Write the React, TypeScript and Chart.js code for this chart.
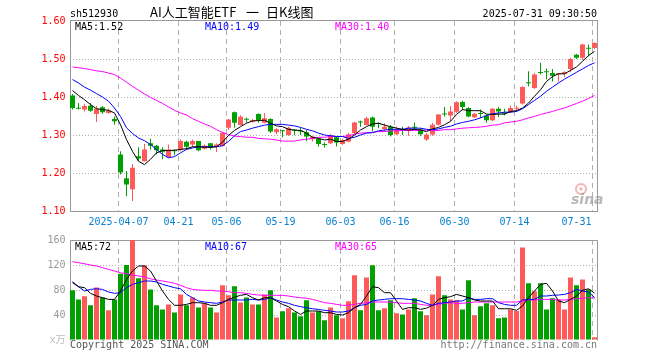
import React, { useEffect, useRef } from "react";
import { Chart, registerables } from "chart.js";

Chart.register(...registerables);

// ---------- data ----------
const dates = [
  "2025-03-25","2025-03-26","2025-03-27","2025-03-28","2025-03-31","2025-04-01","2025-04-02","2025-04-03","2025-04-07","2025-04-08",
  "2025-04-09","2025-04-10","2025-04-11","2025-04-14","2025-04-15","2025-04-16","2025-04-17","2025-04-18","2025-04-21","2025-04-22",
  "2025-04-23","2025-04-24","2025-04-25","2025-04-28","2025-04-29","2025-04-30","2025-05-06","2025-05-07","2025-05-08","2025-05-09",
  "2025-05-12","2025-05-13","2025-05-14","2025-05-15","2025-05-16","2025-05-19","2025-05-20","2025-05-21","2025-05-22","2025-05-23",
  "2025-05-26","2025-05-27","2025-05-28","2025-05-29","2025-05-30","2025-06-03","2025-06-04","2025-06-05","2025-06-06","2025-06-09",
  "2025-06-10","2025-06-11","2025-06-12","2025-06-13","2025-06-16","2025-06-17","2025-06-18","2025-06-19","2025-06-20","2025-06-23",
  "2025-06-24","2025-06-25","2025-06-26","2025-06-27","2025-06-30","2025-07-01","2025-07-02","2025-07-03","2025-07-04","2025-07-07",
  "2025-07-08","2025-07-09","2025-07-10","2025-07-11","2025-07-14","2025-07-15","2025-07-16","2025-07-17","2025-07-18","2025-07-21",
  "2025-07-22","2025-07-23","2025-07-24","2025-07-25","2025-07-28","2025-07-29","2025-07-30","2025-07-31",
];

const open = [
  1.404,1.370,1.367,1.377,1.355,1.373,1.358,1.342,1.249,1.186,
  1.157,1.244,1.231,1.278,1.272,1.262,1.242,1.258,1.262,1.282,
  1.275,1.284,1.264,1.278,1.269,1.271,1.319,1.360,1.326,1.343,
  1.335,1.355,1.332,1.342,1.307,1.312,1.300,1.313,1.310,1.307,
  1.289,1.290,1.275,1.278,1.294,1.276,1.283,1.305,1.334,1.326,
  1.346,1.330,1.316,1.322,1.302,1.312,1.313,1.320,1.315,1.288,
  1.301,1.327,1.355,1.351,1.361,1.387,1.371,1.347,1.356,1.351,
  1.339,1.369,1.357,1.360,1.369,1.383,1.437,1.424,1.464,1.466,
  1.463,1.460,1.461,1.474,1.511,1.503,1.528,1.529,
];
const high = [
  1.408,1.384,1.382,1.384,1.376,1.376,1.369,1.349,1.257,1.205,
  1.224,1.268,1.277,1.290,1.274,1.268,1.275,1.262,1.288,1.285,
  1.288,1.284,1.275,1.279,1.278,1.307,1.342,1.362,1.352,1.346,
  1.342,1.357,1.357,1.344,1.318,1.313,1.322,1.315,1.319,1.313,
  1.298,1.291,1.280,1.302,1.296,1.291,1.305,1.335,1.338,1.348,
  1.348,1.333,1.331,1.326,1.322,1.322,1.324,1.333,1.318,1.305,
  1.332,1.355,1.374,1.376,1.389,1.390,1.373,1.358,1.367,1.354,
  1.371,1.374,1.369,1.377,1.377,1.428,1.468,1.463,1.490,1.475,
  1.474,1.463,1.468,1.503,1.513,1.540,1.538,1.544,
];
const low = [
  1.367,1.367,1.362,1.361,1.334,1.356,1.356,1.327,1.196,1.139,
  1.126,1.231,1.231,1.262,1.249,1.236,1.240,1.247,1.257,1.262,
  1.269,1.257,1.262,1.262,1.255,1.269,1.314,1.319,1.325,1.333,
  1.333,1.332,1.331,1.305,1.302,1.294,1.298,1.300,1.300,1.284,
  1.283,1.270,1.267,1.276,1.270,1.274,1.281,1.302,1.322,1.325,
  1.309,1.318,1.309,1.296,1.300,1.300,1.298,1.313,1.298,1.284,
  1.298,1.325,1.349,1.336,1.358,1.365,1.347,1.345,1.345,1.332,
  1.336,1.347,1.351,1.358,1.362,1.380,1.428,1.421,1.459,1.447,
  1.441,1.441,1.452,1.465,1.500,1.498,1.507,1.526,
];
const close = [
  1.371,1.369,1.376,1.364,1.369,1.360,1.364,1.336,1.201,1.170,
  1.214,1.238,1.262,1.272,1.260,1.256,1.262,1.257,1.284,1.269,
  1.284,1.260,1.272,1.266,1.275,1.306,1.341,1.332,1.348,1.340,
  1.339,1.339,1.344,1.309,1.315,1.310,1.319,1.311,1.309,1.296,
  1.296,1.276,1.274,1.300,1.280,1.287,1.302,1.333,1.333,1.344,
  1.322,1.329,1.322,1.300,1.313,1.311,1.320,1.319,1.302,1.301,
  1.327,1.354,1.354,1.362,1.386,1.374,1.349,1.356,1.355,1.339,
  1.369,1.362,1.356,1.371,1.370,1.426,1.436,1.459,1.463,1.465,
  1.456,1.461,1.466,1.500,1.503,1.538,1.527,1.542,
];

const ma5 = [
  1.417,1.404,1.393,1.380,1.369,1.367,1.365,1.358,1.327,1.288,
  1.257,1.231,1.222,1.236,1.253,1.259,1.259,1.260,1.262,1.264,
  1.269,1.269,1.268,1.268,1.269,1.281,1.299,1.312,1.322,1.331,
  1.337,1.338,1.339,1.331,1.324,1.322,1.315,1.313,1.312,1.305,
  1.294,1.291,1.287,1.289,1.283,1.283,1.289,1.300,1.313,1.322,
  1.329,1.331,1.326,1.322,1.318,1.315,1.313,1.315,1.313,1.309,
  1.316,1.320,1.327,1.336,1.354,1.367,1.364,1.364,1.364,1.355,
  1.354,1.355,1.355,1.362,1.364,1.371,1.384,1.402,1.419,1.441,
  1.454,1.461,1.461,1.470,1.479,1.494,1.509,1.520,
];
const ma10 = [
  1.446,1.437,1.426,1.418,1.409,1.400,1.389,1.371,1.349,1.319,
  1.304,1.292,1.285,1.275,1.262,1.249,1.240,1.243,1.253,1.262,
  1.266,1.269,1.269,1.269,1.269,1.272,1.283,1.298,1.309,1.313,
  1.318,1.322,1.326,1.328,1.328,1.328,1.326,1.324,1.320,1.315,
  1.311,1.305,1.300,1.298,1.296,1.296,1.291,1.294,1.300,1.305,
  1.306,1.311,1.313,1.315,1.315,1.315,1.318,1.318,1.318,1.315,
  1.314,1.316,1.320,1.323,1.329,1.333,1.336,1.340,1.345,1.351,
  1.356,1.358,1.360,1.360,1.362,1.369,1.380,1.391,1.402,1.415,
  1.426,1.437,1.447,1.456,1.465,1.474,1.483,1.490,
];
const ma30 = [
  1.479,1.477,1.475,1.472,1.469,1.467,1.463,1.459,1.450,1.439,
  1.428,1.418,1.408,1.399,1.391,1.383,1.374,1.365,1.358,1.353,
  1.343,1.336,1.329,1.323,1.314,1.307,1.301,1.297,1.296,1.294,
  1.294,1.291,1.290,1.289,1.287,1.284,1.284,1.284,1.287,1.289,
  1.291,1.294,1.294,1.296,1.296,1.296,1.298,1.302,1.305,1.306,
  1.307,1.309,1.309,1.311,1.311,1.312,1.312,1.312,1.312,1.313,
  1.312,1.312,1.314,1.314,1.316,1.318,1.319,1.320,1.321,1.323,
  1.326,1.327,1.332,1.334,1.336,1.340,1.345,1.349,1.354,1.358,
  1.362,1.367,1.371,1.377,1.383,1.389,1.396,1.404,
];

// volume, 万手
const volume = [
  79.5,65,70,55.5,84,68,47.5,65,106,120,
  160,98.7,119.5,81,55.5,49,57,44,73,55.5,
  68,52,58.7,52,44,87.5,71.5,86,60,68,
  57,57,73,79.5,36,46,50.7,44,38,63.5,
  44,46,31.5,52,39.5,34.7,62,103.5,47.5,100,
  119.5,47.5,50.7,63.5,42.7,41,49,66.7,46,39.5,
  73,102,71.5,65,63.5,49,95.5,39.5,54,58.7,
  55.5,34.7,36,49,46.4,148,90.7,78,90.7,49,
  66.7,65,49,100,87.5,97,81,4.3,
];
const volMa5 = [
  91.7,85.3,83.7,74.7,70.4,67.7,65,65,78.4,97,
  110.4,118.4,118.4,110.4,94.4,78.4,65,55.5,55.5,57,
  59.7,59.7,58.7,55.5,55.5,59.7,65,68.5,71.5,73,
  67.7,64,67.7,67.7,62.4,57,53.3,46.4,41,46.4,
  46.4,46.4,43.7,43.7,41,40,43.7,51.7,57,70.4,
  85.3,83.7,75.7,75.7,62.4,49,51.7,51.7,49,51,
  55.5,65,67.7,69.3,73,70.4,67.7,64,62.4,62.4,
  62.4,50,50,50,47.5,54.4,67.7,78.4,89,90.7,
  78.4,62.4,59.7,65,70.4,79.5,82,75,
];
const volMa10 = [
  93.3,85.3,78.4,81,82,81,76.8,74.7,75.7,83.7,
  89,91.7,94.4,94.4,92.8,89,86.4,83.7,82,73,
  67.7,62.4,60.8,59.7,58.7,60.8,64,64,64,64,
  65,64,65,67.7,64,60.8,58.7,55.5,53.3,51.7,
  50,49,47.5,46.4,44.8,44.8,46.4,51.7,55.5,57,
  62.4,64,65,66.1,66.1,66.1,65,64,62.4,58.7,
  55.5,58.7,59.7,60.8,62.4,62.4,67.7,65,65,66.1,
  66.1,59.7,57,55.5,55.5,64,65,65,70.4,70.4,
  71.5,72,73,75.7,81,78.4,76.8,68,
];
const volMa30 = [
  125.3,123.7,122,120,118.4,115.7,113,110.4,107.7,106,
  104,102.4,100.8,98,96,94.4,92.8,90.7,87.5,83.7,
  81,80,79.5,79.5,78.4,78.4,77.3,75.7,75.7,74.7,
  73,72,71.5,71.5,71.5,71.5,70.4,68.8,67.7,66.7,
  65,62.4,59.7,58.7,57,55.5,55.5,57,58.7,59.7,
  60.8,60.8,60.8,60.8,59.7,58.7,58.7,58.7,57,55.5,
  55.5,57,58.7,59.7,58.7,58.7,59.7,60.8,60.8,60.8,
  60.8,60.8,60.8,60.8,60.8,62.4,64,64,65,65,
  65,64,64,65,66.1,66.7,67.7,67,
];

const priceTicks = [1.1, 1.2, 1.3, 1.4, 1.5, 1.6];
const volumeTicks = [0, 40, 80, 120, 160];
const dateTickIndex = [8, 18, 26, 35, 45, 54, 64, 74, 87];
const dateTickLabels = ["2025-04-07", "04-21", "05-06", "05-19", "06-03", "06-16", "06-30", "07-14", "07-31"];
const priceMaLabels = ["MA5:1.52", "MA10:1.49", "MA30:1.40"];
const volumeMaLabels = ["MA5:72", "MA10:67", "MA30:65"];
const symbolText = "sh512930";
const titleParts = ["AI人工智能ETF", "一", "日K线图"];
const timeText = "2025-07-31 09:30:50";
const copyrightText = "Copyright 2025 SINA.COM";
const urlText = "http://finance.sina.com.cn";
const volumeUnit = "x万";

// ---------- styles ----------
const RED = "#ff5a5a";
const GREEN = "#00a000";
const MA_COLORS = ["#000000", "#0000ff", "#ff00ff"];
const GRID = "#b0b0b0";
const FRAME = "#999999";
const MONO = '"DejaVu Sans Mono", "Noto Sans CJK SC", monospace';
const GRID_SHIFT = 1 / 6; // gridlines sit at the left edge of each slot
const PLOT_LEFT = 69.5;
const PLOT_RIGHT_PAD = 62.5;

const isUp = close.map((c, i) => c > open[i]);
const candleColors = isUp.map((u) => (u ? RED : GREEN));

function xScaleOpts(height: number) {
  return {
    type: "linear" as const,
    min: 0,
    max: dates.length,
    offset: false,
    afterBuildTicks: (s: any) => {
      s.ticks = dateTickIndex.map((i) => ({ value: i + GRID_SHIFT }));
    },
    afterFit: (s: any) => {
      s.height = height;
    },
    ticks: { display: false },
    grid: { color: GRID, lineWidth: 1, drawTicks: false, offset: false },
    border: { display: false, dash: [5, 4] },
  };
}

function lineDs(vals: number[], color: string) {
  return {
    type: "line" as const,
    data: vals.map((v, i) => ({ x: i + 0.5, y: v })),
    borderColor: color,
    borderWidth: 1,
    pointRadius: 0,
    fill: false,
    tension: 0,
    order: 0,
  };
}

function drawText(ctx: CanvasRenderingContext2D, t: string, x: number, y: number, color: string, align: CanvasTextAlign = "left", font = `10px ${MONO}`) {
  ctx.font = font;
  ctx.fillStyle = color;
  ctx.textAlign = align;
  ctx.textBaseline = "alphabetic";
  ctx.fillText(t, x, y);
}

const priceDecor = {
  id: "priceDecor",
  beforeDatasetsDraw(chart: any) {
    const { ctx, chartArea: a } = chart;
    ctx.save();
    // sina watermark
    ctx.globalAlpha = 0.45;
    ctx.strokeStyle = "#e06060";
    ctx.lineWidth = 2;
    ctx.beginPath();
    ctx.arc(581, 189, 5, 0, Math.PI * 2);
    ctx.stroke();
    ctx.fillStyle = "#e06060";
    ctx.beginPath();
    ctx.arc(581, 189, 1.8, 0, Math.PI * 2);
    ctx.fill();
    ctx.globalAlpha = 0.6;
    drawText(ctx, "sina", 571, 204, "#8a8a8a", "left", 'italic bold 14px "DejaVu Sans"');
    ctx.globalAlpha = 1;
    // frame
    ctx.strokeStyle = FRAME;
    ctx.lineWidth = 1;
    const l = Math.round(a.left) + 0.5;
    const r = Math.floor(a.right) + 0.5;
    const t = Math.round(a.top) - 0.5;
    const b = Math.round(a.bottom) + 0.5;
    ctx.strokeRect(l, t, r - l, b - t);
    ctx.restore();
  },
  afterDraw(chart: any) {
    const { ctx, scales } = chart;
    ctx.save();
    drawText(ctx, symbolText, 70, 17, "#000");
    const titleX = [150, 246, 266];
    titleParts.forEach((t, k) => drawText(ctx, t, titleX[k], 17, "#000", "left", '13px "Noto Sans CJK SC"'));
    drawText(ctx, timeText, 597, 17, "#000", "right");
    const maX = [75, 205, 335];
    priceMaLabels.forEach((t, k) => drawText(ctx, t, maX[k], 30, MA_COLORS[k]));
    dateTickIndex.forEach((i, k) => {
      const x = scales.x.getPixelForValue(i + GRID_SHIFT);
      const last = k === dateTickIndex.length - 1;
      drawText(ctx, dateTickLabels[k], last ? x - 1 : x, 225, "#0a82d2", last ? "right" : "center");
    });
    ctx.restore();
  },
};

const volumeDecor = {
  id: "volumeDecor",
  beforeDatasetsDraw(chart: any) {
    const { ctx, chartArea: a } = chart;
    ctx.save();
    ctx.strokeStyle = FRAME;
    ctx.lineWidth = 1;
    const l = Math.round(a.left) + 0.5;
    const r = Math.floor(a.right) + 0.5;
    const t = Math.round(a.top) + 0.5;
    const b = Math.round(a.bottom) + 0.5;
    ctx.beginPath();
    ctx.moveTo(l, b);
    ctx.lineTo(l, t);
    ctx.lineTo(r, t);
    ctx.lineTo(r, b);
    ctx.stroke();
    ctx.restore();
  },
  afterDraw(chart: any) {
    const { ctx } = chart;
    ctx.save();
    const maX = [75, 205, 335];
    volumeMaLabels.forEach((t, k) => drawText(ctx, t, maX[k], 20, MA_COLORS[k]));
    drawText(ctx, copyrightText, 70, 118, "#555");
    drawText(ctx, urlText, 597, 118, "#777", "right");
    ctx.restore();
  },
};

function priceConfig(): any {
  return {
    type: "bar",
    data: {
      datasets: [
        lineDs(ma5, MA_COLORS[0]),
        lineDs(ma10, MA_COLORS[1]),
        lineDs(ma30, MA_COLORS[2]),
        {
          type: "bar",
          data: dates.map((_, i) => ({ x: i + 0.5, y: [open[i], close[i]] })),
          backgroundColor: candleColors,
          barThickness: 5,
          minBarLength: 1,
          grouped: false,
          inflateAmount: 0,
          borderWidth: 0,
          order: 1,
        },
        {
          type: "bar",
          data: dates.map((_, i) => ({ x: i + 0.5, y: [low[i], high[i]] })),
          backgroundColor: candleColors,
          barThickness: 1,
          minBarLength: 1,
          grouped: false,
          inflateAmount: 0,
          borderWidth: 0,
          order: 2,
        },
      ],
    },
    options: {
      animation: false,
      responsive: false,
      maintainAspectRatio: false,
      events: [],
      layout: { padding: { left: 0, right: PLOT_RIGHT_PAD, top: 21, bottom: 0 } },
      plugins: { legend: { display: false }, tooltip: { enabled: false } },
      scales: {
        x: xScaleOpts(19),
        y: {
          type: "linear",
          min: priceTicks[0],
          max: priceTicks[priceTicks.length - 1],
          afterBuildTicks: (s: any) => {
            s.ticks = priceTicks.map((v) => ({ value: v }));
          },
          afterFit: (s: any) => {
            s.width = PLOT_LEFT;
          },
          ticks: {
            color: "#ff0000",
            padding: 4,
            font: { family: MONO, size: 10 },
            callback: (v: any) => Number(v).toFixed(2),
          },
          grid: {
            drawTicks: false,
            color: (c: any) =>
              c.tick && (c.tick.value === priceTicks[0] || c.tick.value === priceTicks[priceTicks.length - 1])
                ? "rgba(0,0,0,0)"
                : GRID,
          },
          border: { display: false, dash: [1, 2] },
        },
      },
    },
    plugins: [priceDecor],
  };
}

function volumeConfig(): any {
  return {
    type: "bar",
    data: {
      datasets: [
        lineDs(volMa5, MA_COLORS[0]),
        lineDs(volMa10, MA_COLORS[1]),
        lineDs(volMa30, MA_COLORS[2]),
        {
          type: "bar",
          data: dates.map((_, i) => ({ x: i + 0.5, y: volume[i] })),
          backgroundColor: candleColors,
          barThickness: 5,
          grouped: false,
          inflateAmount: 0,
          borderWidth: 0,
          order: 1,
        },
      ],
    },
    options: {
      animation: false,
      responsive: false,
      maintainAspectRatio: false,
      events: [],
      layout: { padding: { left: 0, right: PLOT_RIGHT_PAD, top: 10, bottom: 0 } },
      plugins: { legend: { display: false }, tooltip: { enabled: false } },
      scales: {
        x: xScaleOpts(20),
        y: {
          type: "linear",
          min: volumeTicks[0],
          max: volumeTicks[volumeTicks.length - 1],
          afterBuildTicks: (s: any) => {
            s.ticks = volumeTicks.map((v) => ({ value: v }));
          },
          afterFit: (s: any) => {
            s.width = PLOT_LEFT;
          },
          ticks: {
            color: (c: any) => (c.tick && c.tick.value === 0 ? "#bbbbbb" : "#999999"),
            padding: 4,
            font: { family: MONO, size: 10 },
            callback: (v: any) => (Number(v) === 0 ? volumeUnit : String(v)),
          },
          grid: {
            drawTicks: false,
            color: (c: any) =>
              c.tick && (c.tick.value === 0 || c.tick.value === volumeTicks[volumeTicks.length - 1])
                ? "rgba(0,0,0,0)"
                : GRID,
          },
          border: { display: false, dash: [1, 2] },
        },
      },
    },
    plugins: [volumeDecor],
  };
}

export default function App() {
  const priceRef = useRef<HTMLCanvasElement>(null);
  const volRef = useRef<HTMLCanvasElement>(null);
  useEffect(() => {
    const c1 = new Chart(priceRef.current as HTMLCanvasElement, priceConfig());
    const c2 = new Chart(volRef.current as HTMLCanvasElement, volumeConfig());
    return () => {
      c1.destroy();
      c2.destroy();
    };
  }, []);
  return (
    <div style={{ position: "fixed", left: 0, top: 0, width: 660, height: 360, background: "#fff" }}>
      <canvas
        ref={priceRef}
        width={660}
        height={230}
        style={{ position: "absolute", left: 0, top: 0, width: 660, height: 230, display: "block" }}
      />
      <canvas
        ref={volRef}
        width={660}
        height={130}
        style={{ position: "absolute", left: 0, top: 230, width: 660, height: 130, display: "block" }}
      />
    </div>
  );
}
